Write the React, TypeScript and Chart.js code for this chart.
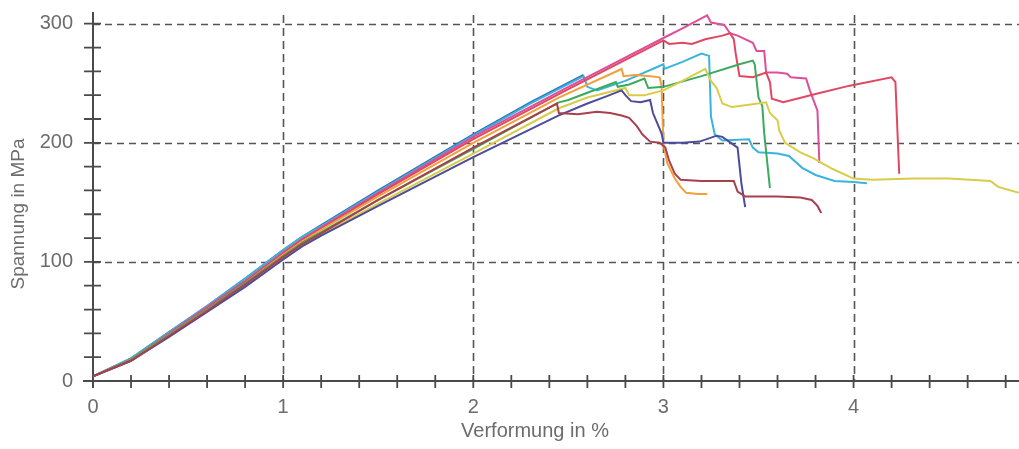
import { useEffect, useRef } from 'react';
import { Chart, registerables } from 'chart.js';

Chart.register(...registerables);

// ---- axis setup ----
const X_MIN = 0;
const X_MAX = 4.87;
const Y_MIN = 0;
const Y_MAX = 309;
const X_TICK_LABELS = [0, 1, 2, 3, 4];
const Y_TICK_LABELS = [0, 100, 200, 300];
const X_GRID = [1, 2, 3, 4];
const Y_GRID = [100, 200, 300];
const X_MINOR_STEP = 0.2;
const Y_MINOR_STEP = 20;
const X_TITLE = 'Verformung in %';
const Y_TITLE = 'Spannung in MPa';

// ---- series data: [Verformung %, Spannung MPa] ----
type P = [number, number];

const blue: P[] = [
  [0, 4], [0.2, 19], [0.4, 41], [0.6, 63], [0.8, 86], [1.0, 110], [1.1, 121], [1.2, 131],
  [1.5, 160], [2.0, 207], [2.3, 234], [2.58, 257],
];

const cyan: P[] = [
  [0, 4], [0.2, 19], [0.4, 41], [0.6, 63], [0.8, 86], [1.0, 110], [1.1, 121], [1.2, 130],
  [1.5, 159], [2.0, 206], [2.3, 233], [2.58, 256], [2.6, 247], [2.65, 244], [2.8, 252],
  [3.0, 266], [3.005, 262], [3.1, 268], [3.2, 275], [3.24, 273], [3.25, 222], [3.27, 207],
  [3.31, 202], [3.45, 203], [3.47, 196], [3.5, 192], [3.6, 191], [3.66, 189], [3.73, 179],
  [3.8, 173], [3.9, 168], [4.0, 167], [4.07, 166],
];

const magenta: P[] = [
  [0, 4], [0.2, 18], [0.4, 40], [0.6, 62], [0.8, 84], [1.0, 108], [1.1, 119], [1.2, 129],
  [1.5, 158], [2.0, 205], [2.5, 247], [3.0, 288], [3.1, 296], [3.23, 307], [3.25, 301],
  [3.32, 299], [3.35, 292], [3.39, 290], [3.47, 284], [3.49, 277], [3.53, 277], [3.54, 259],
  [3.6, 259], [3.65, 258], [3.67, 255], [3.75, 254], [3.77, 244], [3.81, 227], [3.82, 183],
];

const red: P[] = [
  [0, 4], [0.2, 18], [0.4, 39], [0.6, 61], [0.8, 83], [1.0, 107], [1.1, 119], [1.2, 128],
  [1.5, 157], [2.0, 203], [2.5, 245], [3.0, 286], [3.03, 283], [3.1, 284], [3.15, 283],
  [3.22, 287], [3.31, 290], [3.35, 292], [3.37, 287], [3.38, 275], [3.4, 256], [3.47, 255],
  [3.54, 259], [3.56, 251], [3.57, 237], [3.63, 234], [3.8, 241], [3.98, 248], [4.2, 255],
  [4.22, 251], [4.24, 174],
];

const orange: P[] = [
  [0, 4], [0.2, 18], [0.4, 39], [0.6, 60], [0.8, 82], [1.0, 106], [1.1, 117], [1.2, 127],
  [1.5, 155], [2.0, 200], [2.45, 238], [2.78, 262], [2.79, 256], [2.85, 257], [2.92, 256],
  [2.98, 255], [2.99, 248], [3.0, 199], [3.02, 183], [3.06, 170], [3.09, 163], [3.12, 158],
  [3.18, 157], [3.23, 157],
];

const green: P[] = [
  [0, 4], [0.2, 18], [0.4, 39], [0.6, 60], [0.8, 82], [1.0, 105], [1.1, 116], [1.2, 125],
  [1.5, 152], [2.0, 195], [2.45, 234], [2.5, 236], [2.6, 242], [2.75, 251], [2.76, 247],
  [2.82, 249], [2.9, 254], [2.92, 246], [3.0, 247], [3.2, 256], [3.4, 266], [3.47, 269],
  [3.48, 266], [3.5, 238], [3.52, 231], [3.53, 208], [3.56, 162],
];

const maroon: P[] = [
  [0, 4], [0.2, 17], [0.4, 38], [0.6, 59], [0.8, 81], [1.0, 104], [1.1, 115], [1.2, 124],
  [1.5, 152], [2.0, 196], [2.44, 233], [2.45, 225], [2.55, 224], [2.65, 226], [2.72, 225],
  [2.78, 223], [2.82, 221], [2.86, 214], [2.89, 207], [2.93, 201], [2.98, 200], [3.01, 196],
  [3.03, 185], [3.06, 174], [3.09, 169], [3.2, 168], [3.37, 168], [3.39, 159], [3.43, 155],
  [3.6, 155], [3.72, 154], [3.78, 152], [3.81, 147], [3.83, 141],
];

const yellow: P[] = [
  [0, 4], [0.2, 17], [0.4, 38], [0.6, 59], [0.8, 80], [1.0, 103], [1.1, 114], [1.2, 123],
  [1.5, 149], [2.0, 191], [2.45, 229], [2.6, 238], [2.8, 246], [2.82, 240], [2.9, 240],
  [3.0, 244], [3.1, 252], [3.22, 262], [3.25, 252], [3.28, 246], [3.31, 233], [3.36, 230],
  [3.45, 232], [3.54, 234], [3.56, 225], [3.6, 219], [3.61, 210], [3.64, 200], [3.72, 192],
  [3.79, 187], [3.89, 178], [4.0, 170], [4.1, 169], [4.32, 170], [4.5, 170], [4.72, 168],
  [4.76, 163], [4.87, 158],
];

const purple: P[] = [
  [0, 4], [0.2, 17], [0.4, 37], [0.6, 58], [0.8, 79], [1.0, 102], [1.1, 113], [1.2, 122],
  [1.5, 147], [2.0, 188], [2.45, 223], [2.6, 233], [2.7, 239], [2.78, 244], [2.8, 240],
  [2.83, 235], [2.88, 234], [2.93, 236], [2.945, 225], [2.99, 208], [3.0, 200], [3.1, 200],
  [3.19, 201], [3.28, 206], [3.31, 205], [3.39, 196], [3.41, 166], [3.43, 146],
];

const SERIES: { name: string; color: string; data: P[] }[] = [
  { name: 'Probe 1', color: '#a8404e', data: maroon },
  { name: 'Probe 2', color: '#4b4c9c', data: purple },
  { name: 'Probe 3', color: '#d9cc4a', data: yellow },
  { name: 'Probe 4', color: '#3aaa5c', data: green },
  { name: 'Probe 5', color: '#f2a03c', data: orange },
  { name: 'Probe 6', color: '#e04862', data: red },
  { name: 'Probe 7', color: '#dc4f9a', data: magenta },
  { name: 'Probe 8', color: '#3ab4dc', data: cyan },
  { name: 'Probe 9', color: '#2f72b8', data: blue },
];

const TEXT_COLOR = '#6c6c6c';
const AXIS_COLOR = '#4a4a4a';
const GRID_COLOR = '#555555';
const FONT = '"Liberation Sans", Arial, sans-serif';

const decorPlugin = {
  id: 'decor',
  beforeDatasetsDraw(chart: any) {
    const { ctx, chartArea, scales } = chart;
    const xs = scales.x;
    const ys = scales.y;
    const x0 = xs.getPixelForValue(0);
    const y0 = ys.getPixelForValue(0);
    ctx.save();
    // dashed grid
    ctx.strokeStyle = GRID_COLOR;
    ctx.lineWidth = 1.6;
    ctx.setLineDash([7, 5]);
    for (const v of Y_GRID) {
      const py = Math.round(ys.getPixelForValue(v)) + 0.5;
      ctx.beginPath();
      ctx.moveTo(x0, py);
      ctx.lineTo(chartArea.right, py);
      ctx.stroke();
    }
    ctx.setLineDash([8, 5]);
    for (const v of X_GRID) {
      const px = Math.round(xs.getPixelForValue(v)) + 0.5;
      ctx.beginPath();
      ctx.moveTo(px, chartArea.top + 2);
      ctx.lineTo(px, y0);
      ctx.stroke();
    }
    ctx.setLineDash([]);
    // axes
    ctx.strokeStyle = AXIS_COLOR;
    ctx.lineWidth = 2;
    ctx.beginPath();
    ctx.moveTo(x0, chartArea.top - 1);
    ctx.lineTo(x0, y0 + 7);
    ctx.moveTo(x0 - 10, y0);
    ctx.lineTo(chartArea.right, y0);
    ctx.stroke();
    // minor ticks
    ctx.lineWidth = 1.8;
    ctx.beginPath();
    for (let v = Y_MINOR_STEP; v <= Y_MAX; v += Y_MINOR_STEP) {
      const py = ys.getPixelForValue(v);
      ctx.moveTo(x0 - 9, py);
      ctx.lineTo(x0 + 8, py);
    }
    for (let i = 1; i * X_MINOR_STEP <= X_MAX; i++) {
      const px = xs.getPixelForValue(i * X_MINOR_STEP);
      ctx.moveTo(px, y0 - 6);
      ctx.lineTo(px, y0 + 7);
    }
    ctx.stroke();
    ctx.restore();
  },
  afterDraw(chart: any) {
    const { ctx } = chart;
    ctx.save();
    ctx.fillStyle = TEXT_COLOR;
    ctx.textAlign = 'center';
    ctx.textBaseline = 'middle';
    ctx.font = `20px ${FONT}`;
    ctx.fillText(X_TITLE, 535, 431);
    ctx.translate(19, 214);
    ctx.rotate(-Math.PI / 2);
    ctx.font = `19px ${FONT}`;
    ctx.fillText(Y_TITLE, 0, 0);
    ctx.restore();
  },
};

export default function App() {
  const ref = useRef<HTMLCanvasElement>(null);
  useEffect(() => {
    if (!ref.current) return;
    const chart = new Chart(ref.current, {
      type: 'scatter',
      data: {
        datasets: SERIES.map((s) => ({
          label: s.name,
          data: s.data.map(([x, y]) => ({ x, y })),
          borderColor: s.color,
          backgroundColor: s.color,
          borderWidth: 2,
          pointRadius: 0,
          showLine: true,
          tension: 0,
          fill: false,
        })),
      },
      options: {
        responsive: false,
        animation: false,
        devicePixelRatio: 1,
        layout: { padding: { top: 13, left: 0, right: 0, bottom: 0 } },
        plugins: { legend: { display: false }, tooltip: { enabled: false } },
        scales: {
          x: {
            type: 'linear',
            min: X_MIN,
            max: X_MAX,
            grid: { display: false, drawTicks: false },
            border: { display: false },
            afterBuildTicks: (s: any) => {
              s.ticks = X_TICK_LABELS.map((v) => ({ value: v }));
            },
            ticks: {
              autoSkip: false,
              maxRotation: 0,
              padding: 14,
              color: TEXT_COLOR,
              font: { size: 20, family: FONT },
              callback: (v: any) => String(v),
            },
            afterFit: (s: any) => {
              s.height = 68;
              s.paddingLeft = 0;
              s.paddingRight = 0;
              s.paddingTop = 0;
              s.paddingBottom = 0;
            },
          },
          y: {
            type: 'linear',
            min: Y_MIN,
            max: Y_MAX,
            grid: { display: false, drawTicks: false },
            border: { display: false },
            afterBuildTicks: (s: any) => {
              s.ticks = Y_TICK_LABELS.map((v) => ({ value: v }));
            },
            ticks: {
              autoSkip: false,
              padding: 20,
              color: TEXT_COLOR,
              font: { size: 20, family: FONT },
              callback: (v: any) => String(v),
            },
            afterFit: (s: any) => {
              s.width = 93;
              s.paddingLeft = 0;
              s.paddingRight = 0;
              s.paddingTop = 0;
              s.paddingBottom = 0;
            },
          },
        },
      },
      plugins: [decorPlugin],
    });
    return () => chart.destroy();
  }, []);
  return (
    <div style={{ position: 'fixed', left: 0, top: 0, width: 1019, height: 449, background: '#fff' }}>
      <canvas ref={ref} width={1019} height={449} style={{ width: 1019, height: 449 }} />
    </div>
  );
}
